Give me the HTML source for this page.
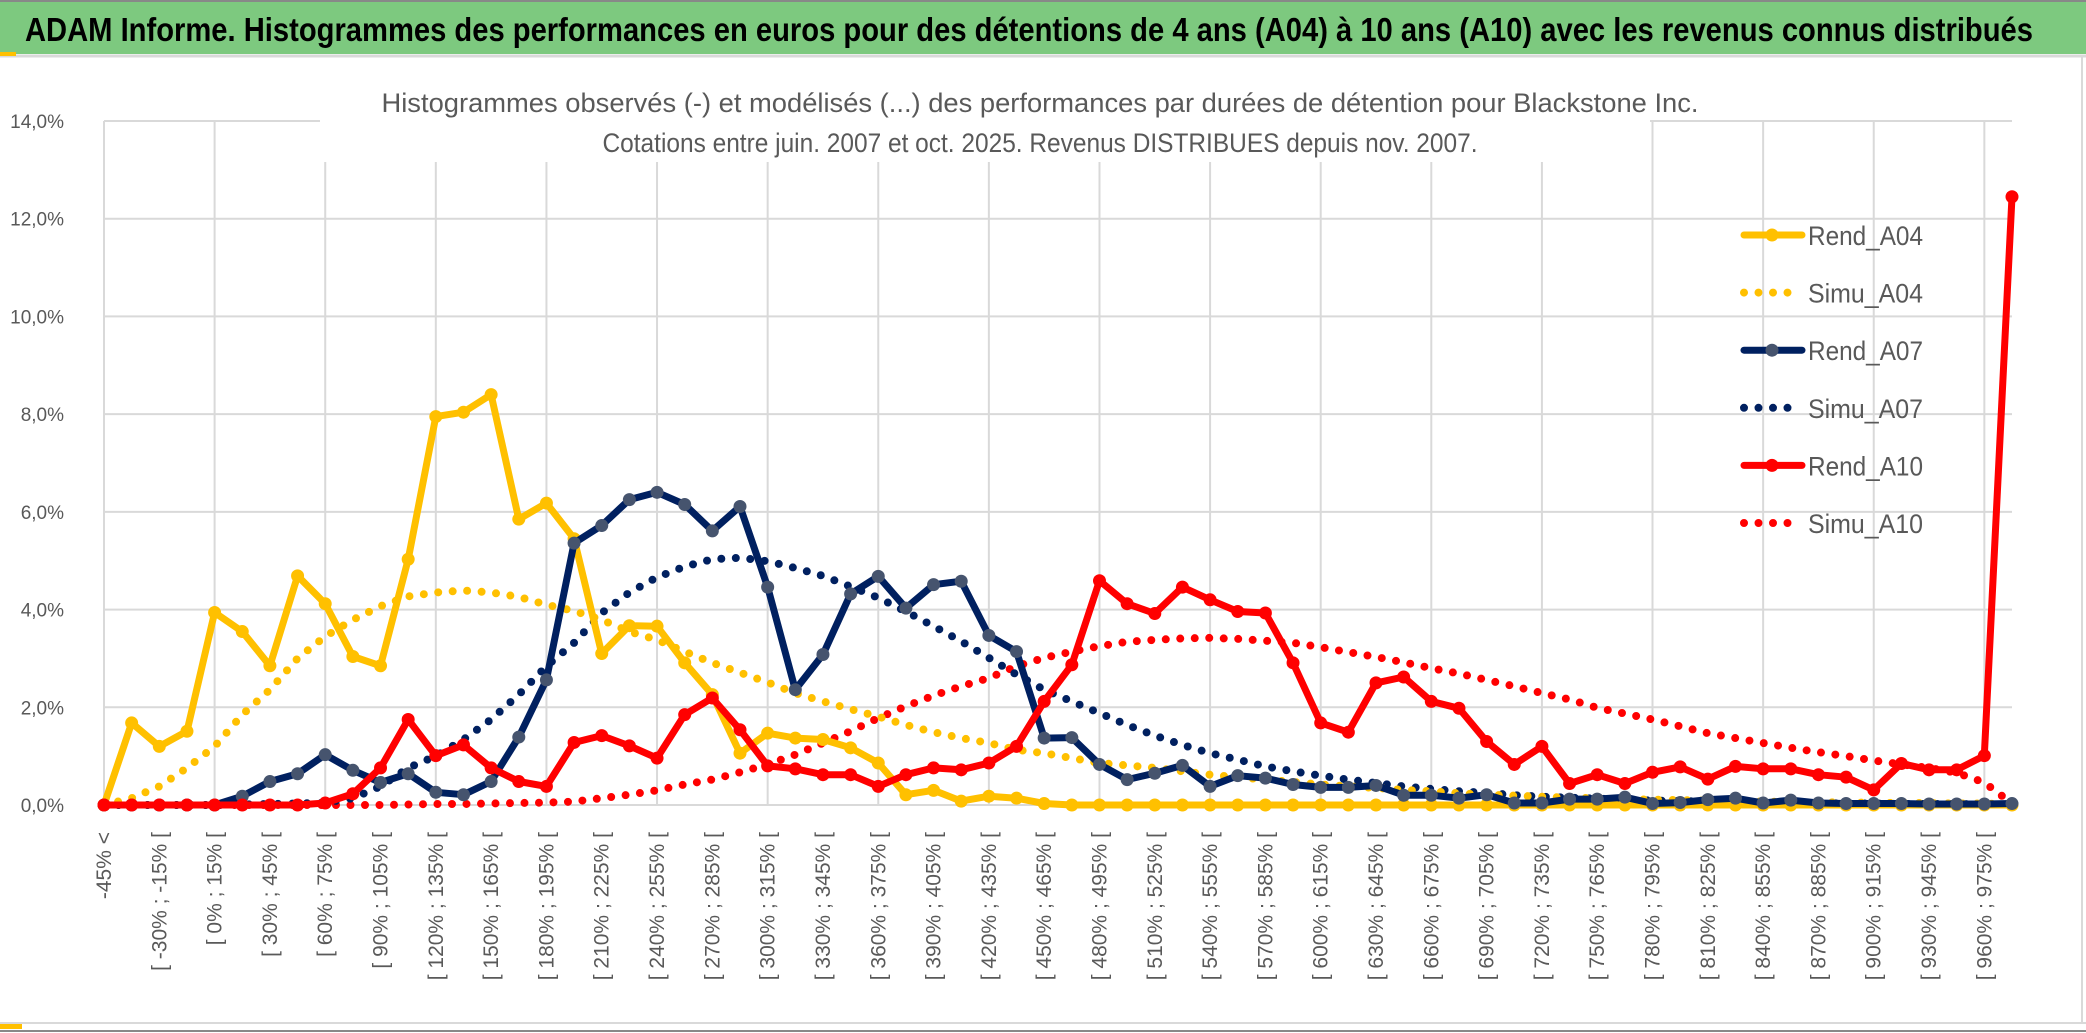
<!DOCTYPE html>
<html><head><meta charset="utf-8"><style>
html,body{margin:0;padding:0;background:#fff;}
svg{display:block;font-family:"Liberation Sans",sans-serif;}
</style></head><body>
<svg id="chart" width="2086" height="1033" viewBox="0 0 2086 1033">
<rect x="0" y="0" width="2086" height="1033" fill="#fff"/>
<rect x="0" y="2" width="2086" height="52" fill="#7DC97F"/>
<line x1="0" y1="1" x2="2086" y2="1" stroke="#888" stroke-width="2"/>
<line x1="0" y1="56" x2="2086" y2="56" stroke="#d9d9d9" stroke-width="3"/>
<rect x="0" y="52" width="16" height="4" fill="#FFC000"/>
<rect x="0" y="1022" width="22" height="7" fill="#FFC000"/>
<line x1="0" y1="1023" x2="2086" y2="1023" stroke="#d9d9d9" stroke-width="2"/>
<line x1="0" y1="1031" x2="2086" y2="1031" stroke="#888" stroke-width="2"/>
<line x1="2082" y1="56" x2="2082" y2="1023" stroke="#d9d9d9" stroke-width="2"/>
<text x="25" y="41" font-size="33" font-weight="bold" fill="#000" textLength="2008" lengthAdjust="spacingAndGlyphs">ADAM Informe. Histogrammes des performances en euros pour des détentions de 4 ans (A04) à 10 ans (A10) avec les revenus connus distribués</text>
<g id="grid"></g>
<rect x="320" y="82" width="1330" height="80" fill="#fff"/>
<text x="1040" y="112" font-size="27" fill="#595959" text-anchor="middle" textLength="1317" lengthAdjust="spacingAndGlyphs">Histogrammes observés (-) et modélisés (...) des performances par durées de détention pour Blackstone Inc.</text>
<text x="1040" y="152" font-size="27" fill="#595959" text-anchor="middle" textLength="875" lengthAdjust="spacingAndGlyphs">Cotations entre juin. 2007 et oct. 2025. Revenus DISTRIBUES depuis nov. 2007.</text>
<g id="yaxis"></g>
<g id="xaxis"></g>
<g id="series"></g>
<g id="legend"></g>
</svg>
<script>
const categoriesCount = 70;
const yTicks = [0,2,4,6,8,10,12,14];
const rendA04 = [0,1.68,1.20,1.51,3.94,3.55,2.85,4.69,4.12,3.04,2.85,5.03,7.95,8.04,8.40,5.85,6.18,5.45,3.10,3.67,3.66,2.91,2.26,1.06,1.47,1.37,1.34,1.17,0.86,0.21,0.30,0.08,0.18,0.14,0.03,0,0,0,0,0,0,0,0,0,0,0,0,0,0,0,0,0,0,0,0,0,0,0,0,0,0,0,0,0,0,0,0,0,0,0];
const simuA04 = [0,0.14,0.38,0.76,1.2,1.85,2.36,3.0,3.45,3.79,4.07,4.27,4.35,4.39,4.35,4.26,4.10,3.97,3.79,3.55,3.38,3.14,2.91,2.71,2.51,2.29,2.12,1.96,1.81,1.64,1.49,1.37,1.27,1.13,1.06,0.96,0.86,0.81,0.76,0.69,0.62,0.57,0.52,0.47,0.42,0.38,0.35,0.31,0.28,0.24,0.21,0.19,0.17,0.15,0.14,0.12,0.11,0.10,0.09,0.08,0.07,0.06,0.06,0.05,0.05,0.04,0.04,0.03,0.03,0.01];
const rendA07 = [0,0,0,0,0,0.18,0.48,0.64,1.03,0.71,0.46,0.64,0.26,0.21,0.48,1.39,2.56,5.36,5.72,6.25,6.40,6.15,5.61,6.11,4.46,2.36,3.08,4.32,4.68,4.03,4.51,4.58,3.47,3.14,1.37,1.38,0.83,0.52,0.65,0.81,0.38,0.60,0.55,0.42,0.36,0.36,0.40,0.20,0.20,0.14,0.21,0.04,0.04,0.12,0.12,0.16,0.03,0.05,0.11,0.14,0.04,0.10,0.04,0.03,0.03,0.03,0.02,0.02,0.02,0.03];
const simuA07 = [0,0,0,0,0,0.01,0.02,0.03,0.05,0.14,0.38,0.76,1.0,1.34,1.75,2.26,2.84,3.32,3.93,4.35,4.66,4.88,5.03,5.06,4.99,4.85,4.69,4.47,4.24,3.96,3.66,3.35,3.01,2.67,2.36,2.12,1.88,1.64,1.42,1.23,1.06,0.93,0.79,0.69,0.60,0.52,0.45,0.38,0.33,0.28,0.25,0.20,0.17,0.15,0.13,0.11,0.09,0.08,0.07,0.06,0.05,0.04,0.04,0.03,0.03,0.02,0.02,0.02,0.01,0.01];
const rendA10 = [0,0,0,0,0,0,0,0,0.04,0.23,0.76,1.75,1.01,1.23,0.76,0.48,0.38,1.28,1.42,1.21,0.96,1.85,2.19,1.54,0.80,0.74,0.62,0.62,0.38,0.62,0.76,0.72,0.86,1.20,2.12,2.87,4.59,4.12,3.92,4.46,4.20,3.96,3.93,2.91,1.68,1.49,2.50,2.62,2.12,1.98,1.30,0.83,1.20,0.44,0.62,0.44,0.67,0.78,0.53,0.79,0.74,0.74,0.62,0.57,0.31,0.85,0.72,0.72,1.01,12.45];
const simuA10 = [0,0,0,0,0,0,0,0,0,0,0,0.01,0.02,0.02,0.03,0.04,0.05,0.07,0.14,0.21,0.30,0.42,0.52,0.67,0.83,1.03,1.27,1.51,1.78,2.02,2.24,2.43,2.60,2.84,3.01,3.14,3.25,3.34,3.38,3.41,3.42,3.40,3.36,3.32,3.23,3.13,3.03,2.92,2.80,2.69,2.56,2.43,2.29,2.16,1.99,1.87,1.75,1.61,1.47,1.37,1.27,1.17,1.08,1.0,0.91,0.83,0.76,0.66,0.46,0.03];
const seriesNames = ["Rend_A04","Simu_A04","Rend_A07","Simu_A07","Rend_A10","Simu_A10"];

const NS = "http://www.w3.org/2000/svg";
const X0 = 104, X1 = 2012, Y0 = 805, YTOP = 121, YMAX = 14;
const step = (X1 - X0) / (categoriesCount - 1);
function xs(i){ return X0 + i * step; }
function ys(v){ return Y0 - (v / YMAX) * (Y0 - YTOP); }
function mk(tag, attrs, parent){ const e = document.createElementNS(NS, tag); for (const k in attrs) e.setAttribute(k, attrs[k]); parent.appendChild(e); return e; }
function catLabel(i){ if (i === 0) return "-45% <"; const a = -45 + 15 * (i - 1); return "[ " + a + "% ; " + (a + 15) + "% ["; }

const grid = document.getElementById("grid");
yTicks.forEach(t => {
  const l = mk("line", {x1: X0, x2: X1, y1: ys(t), y2: ys(t), stroke: "#d9d9d9", "stroke-width": 2}, grid);
  
  
});
for (let i = 0; i < categoriesCount; i += 4) {
  const l = mk("line", {x1: xs(i), x2: xs(i), y1: YTOP, y2: Y0, stroke: "#d9d9d9", "stroke-width": 2}, grid);
  
  
}
const yaxis = document.getElementById("yaxis");
yTicks.forEach(t => {
  const tx = mk("text", {x: 64, y: ys(t) + 7, "font-size": 19, fill: "#595959", "text-anchor": "end"}, yaxis);
  tx.textContent = t.toFixed(1).replace(".", ",") + "%";
  
  
});
const xaxis = document.getElementById("xaxis");
for (let i = 0; i < categoriesCount; i += 2) {
  const x = xs(i) + 7, y = 832;
  const tx = mk("text", {x: x, y: y, "font-size": 21, fill: "#595959", "text-anchor": "end", transform: "rotate(-90 " + x + " " + y + ")"}, xaxis);
  tx.textContent = catLabel(i);
  
  
}

const series = document.getElementById("series");
function dotted(data, color, name){
  const pts = data.map((v, i) => xs(i).toFixed(1) + "," + ys(v).toFixed(1)).join(" ");
  const p = mk("polyline", {points: pts, fill: "none", stroke: color, "stroke-width": 8, "stroke-dasharray": "0 14.5", "stroke-linecap": "round", "stroke-linejoin": "round"}, series);
  
  
}
function solid(data, color, marker, name){
  const pts = data.map((v, i) => xs(i).toFixed(1) + "," + ys(v).toFixed(1)).join(" ");
  const p = mk("polyline", {points: pts, fill: "none", stroke: color, "stroke-width": 7, "stroke-linejoin": "round", "stroke-linecap": "round"}, series);
  
  
  data.forEach((v, i) => {
    const c = mk("circle", {cx: xs(i), cy: ys(v), r: 6.5, fill: marker}, series);
    
    
  });
}
dotted(simuA10, "#FF0000", "simu-a10-line");
dotted(simuA07, "#002060", "simu-a07-line");
dotted(simuA04, "#FFC000", "simu-a04-line");
solid(rendA04, "#FFC000", "#FFC000", "rend-a04-line");
solid(rendA07, "#002060", "#46546E", "rend-a07-line");
solid(rendA10, "#FF0000", "#FF0000", "rend-a10-line");

const legend = document.getElementById("legend");
const legStyles = [
  {c: "#FFC000", m: "#FFC000", d: false},
  {c: "#FFC000", d: true},
  {c: "#002060", m: "#46546E", d: false},
  {c: "#002060", d: true},
  {c: "#FF0000", m: "#FF0000", d: false},
  {c: "#FF0000", d: true}
];
seriesNames.forEach((n, k) => {
  const y = 235 + k * 57.6;
  const s = legStyles[k];
  const g = mk("g", {}, legend);
  
  
  if (s.d) {
    mk("line", {x1: 1744, x2: 1800, y1: y, y2: y, stroke: s.c, "stroke-width": 8, "stroke-dasharray": "0 14.5", "stroke-linecap": "round"}, g);
  } else {
    mk("line", {x1: 1744, x2: 1802, y1: y, y2: y, stroke: s.c, "stroke-width": 7, "stroke-linecap": "round"}, g);
    mk("circle", {cx: 1772, cy: y, r: 6.5, fill: s.m}, g);
  }
  const t = mk("text", {x: 1808, y: y + 10, "font-size": 27, fill: "#595959", textLength: 115, lengthAdjust: "spacingAndGlyphs"}, g);
  t.textContent = n;
});
</script>
</body></html>
